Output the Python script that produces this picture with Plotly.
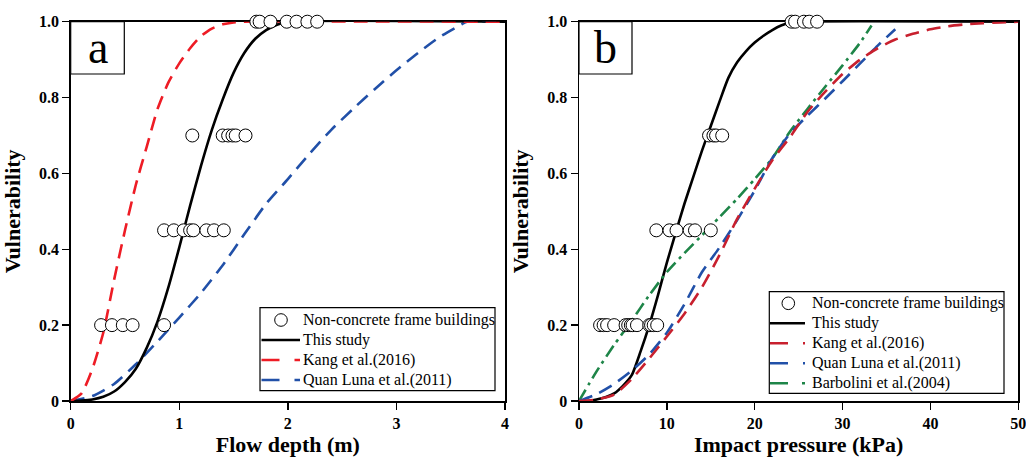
import plotly.graph_objects as go

# ---------------- Panel a data (Flow depth, m) ----------------
a_obs_x = [0.28, 0.38, 0.48, 0.57, 0.86,
           0.86, 0.95, 1.04, 1.10, 1.13, 1.25, 1.32, 1.41,
           1.12, 1.40, 1.45, 1.49, 1.52, 1.61,
           1.71, 1.74, 1.84, 1.99, 2.08, 2.18, 2.27]
a_obs_y = [0.2, 0.2, 0.2, 0.2, 0.2,
           0.45, 0.45, 0.45, 0.45, 0.45, 0.45, 0.45, 0.45,
           0.7, 0.7, 0.7, 0.7, 0.7, 0.7,
           1.0, 1.0, 1.0, 1.0, 1.0, 1.0, 1.0]

a_this_x = [0, 0.1, 0.2, 0.3, 0.4, 0.5, 0.6, 0.7, 0.8, 0.9, 1.0, 1.1, 1.2, 1.3, 1.4, 1.5, 1.6, 1.7, 1.8, 1.9, 2.0, 4.0]
a_this_y = [0, 0.001, 0.004, 0.011, 0.025, 0.05, 0.085, 0.14, 0.21, 0.30, 0.405, 0.515, 0.62, 0.715, 0.795, 0.865, 0.918, 0.955, 0.978, 0.992, 1.0, 1.0]

a_kang_x = [0, 0.1, 0.2, 0.3, 0.4, 0.5, 0.6, 0.7, 0.8, 0.9, 1.0, 1.1, 1.2, 1.3, 1.4, 1.5, 1.6, 4.0]
a_kang_y = [0, 0.02, 0.085, 0.18, 0.32, 0.45, 0.57, 0.67, 0.77, 0.84, 0.89, 0.93, 0.962, 0.982, 0.993, 0.998, 1.0, 1.0]

a_quan_x = [0, 0.2, 0.4, 0.6, 0.8, 1.0, 1.2, 1.4, 1.6, 1.8, 2.0, 2.2, 2.4, 2.6, 2.8, 3.0, 3.2, 3.4, 3.6, 3.65, 4.0]
a_quan_y = [0, 0.013, 0.045, 0.097, 0.157, 0.22, 0.285, 0.358, 0.44, 0.52, 0.585, 0.652, 0.715, 0.77, 0.822, 0.872, 0.918, 0.96, 0.993, 1.0, 1.0]

# ---------------- Panel b data (Impact pressure, kPa) ----------------
b_obs_x = [2.4, 2.8, 3.2, 4.0, 5.3, 5.6, 5.9, 6.1, 6.6, 8.0, 8.2, 8.5, 8.9,
           8.8, 10.3, 11.1, 12.6, 13.2, 15.0,
           14.8, 15.3, 15.6, 16.3,
           24.2, 24.6, 25.6, 26.2, 27.1]
b_obs_y = [0.2, 0.2, 0.2, 0.2, 0.2, 0.2, 0.2, 0.2, 0.2, 0.2, 0.2, 0.2, 0.2,
           0.45, 0.45, 0.45, 0.45, 0.45, 0.45,
           0.7, 0.7, 0.7, 0.7,
           1.0, 1.0, 1.0, 1.0, 1.0]

b_this_x = [0, 1, 2, 3, 4, 5, 6, 7, 8, 9, 10, 11, 12, 13, 14, 15, 16, 17, 18, 19, 20, 21, 22, 23, 24, 25, 50]
b_this_y = [0, 0.0, 0.004, 0.01, 0.02, 0.04, 0.068, 0.13, 0.2, 0.28, 0.365, 0.443, 0.52, 0.59, 0.66, 0.725, 0.79, 0.852, 0.893, 0.922, 0.945, 0.963, 0.978, 0.99, 0.997, 1.0, 1.0]

b_kang_x = [0, 2, 4, 6, 8, 10, 12, 14, 16, 18, 20, 22, 24, 26, 28, 30, 32, 34, 36, 38, 40, 42, 44, 46, 48, 50]
b_kang_y = [0, 0.004, 0.017, 0.058, 0.112, 0.17, 0.23, 0.3, 0.385, 0.48, 0.56, 0.635, 0.695, 0.762, 0.815, 0.862, 0.9, 0.93, 0.953, 0.968, 0.98, 0.988, 0.993, 0.996, 0.998, 1.0]

b_quan_x = [0, 2, 4, 6, 8, 10, 12, 14, 16, 18, 20, 22, 24, 26, 28, 30, 32, 34, 36]
b_quan_y = [0, 0.018, 0.045, 0.08, 0.123, 0.18, 0.255, 0.34, 0.405, 0.477, 0.555, 0.64, 0.705, 0.752, 0.797, 0.843, 0.89, 0.937, 0.98]

b_barb_x = [0, 2, 4, 6, 8, 10, 12, 14, 16, 18, 20, 22, 24, 26, 28, 30, 32, 33.3]
b_barb_y = [0, 0.078, 0.148, 0.212, 0.279, 0.34, 0.39, 0.437, 0.485, 0.533, 0.585, 0.64, 0.71, 0.77, 0.828, 0.885, 0.945, 0.99]

y_ticks = [0, 0.2, 0.4, 0.6, 0.8, 1.0]
y_ticktext = ["0", "0.2", "0.4", "0.6", "0.8", "1.0"]
a_xticks = [0, 1, 2, 3, 4]
b_xticks = [0, 10, 20, 30, 40, 50]

OBS_NAME = "Non-concrete frame buildings"
a_legend_names = [OBS_NAME, "This study", "Kang et al.(2016)", "Quan Luna et al.(2011)"]
b_legend_names = [OBS_NAME, "This study", "Kang et al.(2016)", "Quan Luna et al.(2011)", "Barbolini et al.(2004)"]

RED_A = "#ee1c25"
RED_B = "#c8202e"
BLUE = "#2150a8"
GREEN = "#1e8548"
SERIF = "Liberation Serif, Times New Roman, DejaVu Serif, serif"
W, H = 1026, 461
DASH = "14px,8px"
DASHDOT = "13px,5px,3px,5px"

fig = go.Figure()

def line(x, y, name, color, dash, xa, ya):
    fig.add_trace(go.Scatter(
        x=x, y=y, mode="lines", name=name, xaxis=xa, yaxis=ya, showlegend=False,
        line=dict(color=color, width=2.6, dash=dash, shape="spline", smoothing=0.6)))

def obs(x, y, xa, ya):
    fig.add_trace(go.Scatter(
        x=x, y=y, mode="markers", name=OBS_NAME, showlegend=False,
        xaxis=xa, yaxis=ya, cliponaxis=False,
        marker=dict(symbol="circle", size=13, color="white",
                    line=dict(color="black", width=1))))

# Panel a
line(a_quan_x, a_quan_y, a_legend_names[3], BLUE, DASH, "x", "y")
line(a_this_x, a_this_y, a_legend_names[1], "black", "solid", "x", "y")
line(a_kang_x, a_kang_y, a_legend_names[2], RED_A, DASH, "x", "y")
obs(a_obs_x, a_obs_y, "x", "y")

# Panel b
line(b_this_x, b_this_y, b_legend_names[1], "black", "solid", "x2", "y2")
line(b_barb_x, b_barb_y, b_legend_names[4], GREEN, DASHDOT, "x2", "y2")
line(b_quan_x, b_quan_y, b_legend_names[3], BLUE, DASH, "x2", "y2")
line(b_kang_x, b_kang_y, b_legend_names[2], RED_B, DASH, "x2", "y2")
obs(b_obs_x, b_obs_y, "x2", "y2")

tickfont = dict(family=SERIF, size=16, color="black", weight="bold")
titlefont = dict(family=SERIF, size=22, color="black", weight="bold")
common_axis = dict(showline=True, linecolor="black", linewidth=1.5, mirror=True,
                   ticks="outside", ticklen=7, tickwidth=1.5, tickcolor="black",
                   showgrid=False, zeroline=False, tickfont=tickfont,
                   layer="below traces", automargin=False, ticklabeloverflow="allow")

ydom = [1 - 401 / H, 1 - 21.7 / H]

fig.update_layout(
    width=W, height=H,
    margin=dict(l=0, r=0, t=0, b=0, pad=0, autoexpand=False),
    paper_bgcolor="white", plot_bgcolor="white",
    font=dict(family=SERIF, color="black"),
    showlegend=False,
    xaxis=dict(domain=[70.7 / W, 505 / W], range=[0, 4], tickvals=a_xticks,
               title=dict(text="Flow depth (m)", font=titlefont, standoff=4),
               anchor="y", **common_axis),
    yaxis=dict(domain=ydom, range=[0, 1], tickvals=y_ticks, ticktext=y_ticktext,
               title=dict(text="Vulnerability", font=titlefont, standoff=12),
               anchor="x", **common_axis),
    xaxis2=dict(domain=[579 / W, 1018.3 / W], range=[0, 50], tickvals=b_xticks,
                title=dict(text="Impact pressure (kPa)", font=titlefont, standoff=4),
                anchor="y2", **common_axis),
    yaxis2=dict(domain=ydom, range=[0, 1], tickvals=y_ticks, ticktext=y_ticktext,
                title=dict(text="Vulnerability", font=titlefont, standoff=12),
                anchor="x2", **common_axis),
)

# Panel letter boxes
for xa, ya, letter, w in [("x", "y", "a", 53.6 / 434.3), ("x2", "y2", "b", 53 / 439.3)]:
    fig.add_shape(type="rect", xref=f"{xa} domain", yref=f"{ya} domain",
                  x0=0, x1=w, y0=1 - 52.3 / 379.3, y1=1,
                  line=dict(color="black", width=1.2), fillcolor="white", layer="above")
    fig.add_annotation(xref=f"{xa} domain", yref=f"{ya} domain",
                       x=w / 2, y=1 - 26 / 379.3, text=letter, showarrow=False,
                       font=dict(family=SERIF, size=46, color="black"),
                       xanchor="center", yanchor="middle")

# Hand-built legends (pixel layout converted to paper fractions)
def px(v):
    return v / W

def py(v):
    return 1 - v / H

def legend_box(box, rows, sym_x0, sym_x1, circ_x, text_x, names, styles):
    x0, x1, y0, y1 = box
    fig.add_shape(type="rect", xref="paper", yref="paper",
                  x0=px(x0), x1=px(x1), y0=py(y1), y1=py(y0),
                  line=dict(color="black", width=1.2), fillcolor="white", layer="above")
    for row_y, name, style in zip(rows, names, styles):
        if style is None:
            r = 6.3
            fig.add_shape(type="circle", xref="paper", yref="paper",
                          x0=px(circ_x - r), x1=px(circ_x + r),
                          y0=py(row_y + r), y1=py(row_y - r),
                          line=dict(color="black", width=1), fillcolor="white", layer="above")
        else:
            color, dash = style
            fig.add_shape(type="line", xref="paper", yref="paper",
                          x0=px(sym_x0), x1=px(sym_x1), y0=py(row_y), y1=py(row_y),
                          line=dict(color=color, width=2.6, dash=dash), layer="above")
        fig.add_annotation(xref="paper", yref="paper", x=px(text_x), y=py(row_y),
                           text=name, showarrow=False, xanchor="left", yanchor="middle",
                           font=dict(family=SERIF, size=16, color="black"))

legend_box((260, 495, 307.7, 390.7), [320, 340, 360, 380], 261.5, 300, 281, 301,
           a_legend_names,
           [None, ("black", "solid"), (RED_A, "18px,15px"), (BLUE, "18px,15px")])
legend_box((769.3, 1004, 291.7, 393.3), [303.3, 323.3, 343.3, 363.3, 383.3], 770, 805, 788.3, 810,
           b_legend_names,
           [None, ("black", "solid"), (RED_B, "18px,15px"), (BLUE, "18px,15px"), (GREEN, "18px,14px,5px,40px")])

fig.write_html("out.html", config={"displayModeBar": False, "staticPlot": True},
               post_script="document.body.style.margin='0px';document.body.style.padding='0px';")
